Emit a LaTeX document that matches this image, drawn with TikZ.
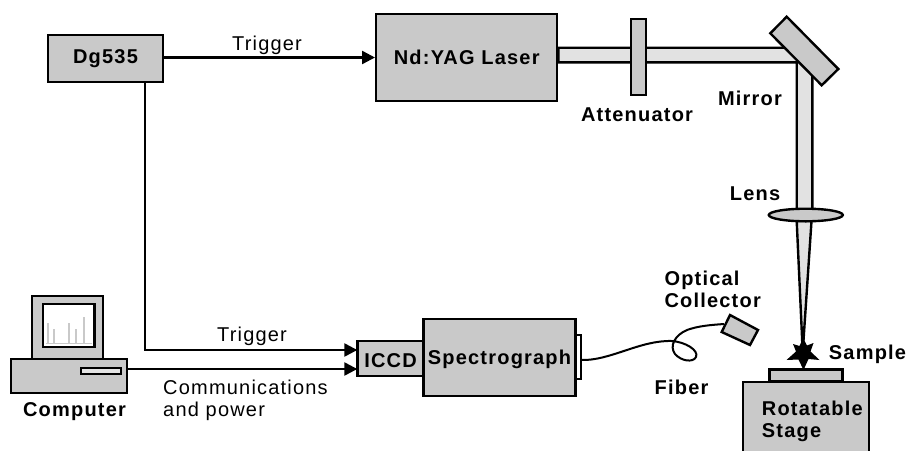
\documentclass[tikz,border=0pt]{standalone}
\usepackage{fontspec}
\setmainfont[LetterSpace=6]{Liberation Sans}
\usetikzlibrary{arrows.meta}
\definecolor{partgray}{HTML}{C9C9C9}
\definecolor{beamgray}{HTML}{E2E2E2}
\tikzset{
 partbox/.style={draw=black,fill=partgray,line width=2.4pt,inner sep=0pt,font=\fontsize{20}{22.7}\selectfont\bfseries},
 shapepart/.style={draw=black,fill=partgray,line width=2.4pt,line join=miter},
 beam/.style={draw=black,fill=beamgray,line width=2.4pt},
 link/.style={draw=black,line width=2.4pt,-{Triangle[length=13pt,width=13pt]}},
 plainlink/.style={draw=black,line width=2pt},
 boldlabel/.style={inner sep=0pt,align=left,font=\fontsize{20}{22.7}\selectfont\bfseries},
 thinlabel/.style={inner sep=0pt,align=left,font=\fontsize{20}{22.7}\selectfont},
}
\begin{document}
\begin{tikzpicture}[x=1pt,y=-1pt]
 \useasboundingbox (0,0) rectangle (909,450);
 % boxes
 \node[partbox,minimum width=115pt,minimum height=47pt] (dg) at (105.5,58.5) {Dg535};
 \node[partbox,minimum width=181pt,minimum height=86.5pt] (laser) at (466.7,57.5) {Nd:YAG Laser};
 \node[partbox,minimum width=66pt,minimum height=35pt,text height=18.5pt] (iccd) at (390.5,358.5) {ICCD};
 \node[partbox,minimum width=152pt,minimum height=76.5pt,text height=17.5pt] (spec) at (499.5,357.5) {Spectrograph};
 \draw[shapepart,fill=white] (576,335) rectangle (581,379);
 % beam path
 \draw[beam] (laser.east |- 0,47.7)--(785,47.7)--(812.3,72)--(812.3,216)--(796.7,216)--(796.7,62.3)--(laser.east |- 0,62.3)--cycle;
 \draw[beam] (796.7,221)--(802.7,352)--(811.5,221)--cycle;
 \draw[shapepart] (630.7,18.7) rectangle (645.7,94.7);
 \draw[shapepart] (786.7,16.7)--(838.3,69)--(821.7,85.3)--(770.3,33.3)--cycle;
 \draw[shapepart] (805.8,215) ellipse [x radius=37,y radius=6.3];
 % sample and stage
 \fill[black] (803,338)--(807,345.5)--(813.5,343)--(810.5,351.5)--(819.5,360)--(808.5,359)--(803.5,370)--(798.5,359.5)--(786.5,360)--(796,351.5)--(793,344)--(799.5,346)--cycle;
 \node[partbox,minimum width=73pt,minimum height=12pt] (plate) at (806,375.5) {};
 \node[partbox,minimum width=126pt,minimum height=74pt] (stage) at (805.8,418.7) {};
 \node[boldlabel,anchor=north west] (rot) at (761.7,400.5) {Rotatable\\Stage};
 % collector and fiber
 \draw[shapepart] (730,315)--(758,330)--(750,345)--(721.7,332)--cycle;
 \coordinate (fibstart) at (581,360);
 \coordinate (fibend) at (724,324);
 \draw[plainlink] (fibstart) .. controls (610,361) and (640,340) .. (672,341) .. controls (685,342) and (699,350) .. (696,357) .. controls (693,363) and (681,361) .. (675,354) .. controls (669,346) and (675,335) .. (687,330) .. controls (698,326) and (710,325) .. (fibend);
 % computer
 \draw[shapepart] (32,295.7) rectangle (102.7,358.7);
 \draw[shapepart,fill=white] (42.7,304) rectangle (94.3,347);
 \foreach \xpos/\ytop in {48/323,54/329,69/322.7,76/329,84/317}
  \draw[partgray,line width=1.2pt] (\xpos,343.3)--(\xpos,\ytop);
 \draw[partgray,line width=1pt] (46,343.3)--(92,343.3);
 \node[partbox,minimum width=116pt,minimum height=34pt] (base) at (69.2,376) {};
 \draw[shapepart,line width=1.8pt,fill=partgray!50] (81,368) rectangle (120.7,374);
 % connectors
 \coordinate (dgout) at (145,82);
 \coordinate (iccdtop) at (357.3,350);
 \coordinate (iccdlow) at (357.3,369);
 \draw[link] (dg.east |- laser.west)--(laser.west);
 \draw[link] (dgout) |- (iccdtop);
 \draw[link] (base.east |- iccdlow)--(iccdlow);
 % labels
 \node[thinlabel,anchor=base] (toptrig) at (267,50) {Trigger};
 \node[thinlabel,anchor=base] (lowtrig) at (252,341.7) {Trigger};
 \node[thinlabel,anchor=north west] (comm) at (163,379.5) {Communications\\and power};
 \node[boldlabel,anchor=base] (atten) at (637,121.7) {Attenuator};
 \node[boldlabel,anchor=base] (mirr) at (750,105.3) {Mirror};
 \node[boldlabel,anchor=base] (lens) at (755,200) {Lens};
 \node[boldlabel,anchor=north west] (optic) at (664.3,270.5) {Optical\\Collector};
 \node[boldlabel,anchor=base] (fib) at (681.5,394) {Fiber};
 \node[boldlabel,anchor=base] (samp) at (867.5,359) {Sample};
 \node[boldlabel,anchor=base] (comp) at (74.5,416) {Computer};
\end{tikzpicture}
\end{document}
